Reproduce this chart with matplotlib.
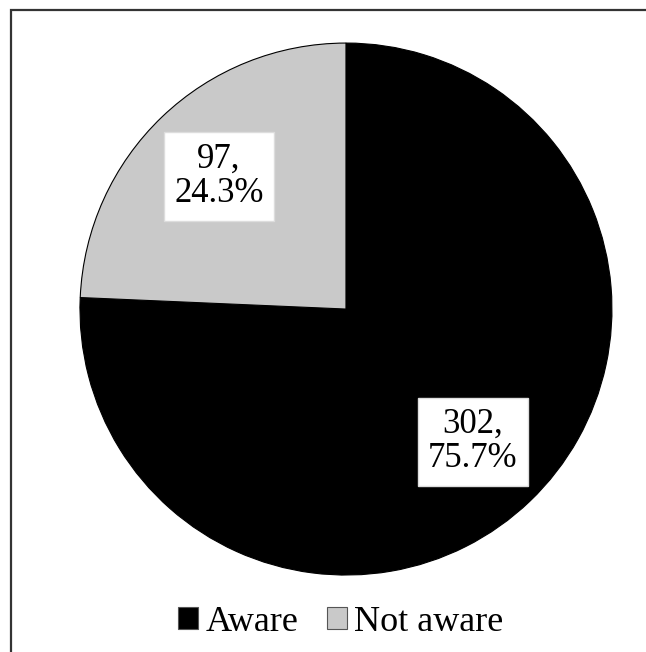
import numpy as np
import matplotlib.pyplot as plt
from matplotlib.patches import Rectangle

labels = ["Aware", "Not aware"]
counts = [302, 97]
percents = [75.7, 24.3]
colors = ["#000000", "#c9c9c9"]

plt.rcParams["font.family"] = ["Liberation Serif", "DejaVu Serif"]

fig = plt.figure(figsize=(6.46, 6.52), dpi=100)
ax = fig.add_axes([0.1238, 0.118, 0.8235, 0.816])

wedges, _ = ax.pie(counts, colors=colors, startangle=90, counterclock=False,
                   wedgeprops=dict(edgecolor="black", linewidth=0.8))
ax.set_xlim(-1.0, 1.0)
ax.set_ylim(-1.0, 1.0)
ax.set_aspect("equal")

# value labels inside the slices
for w, n, p in zip(wedges, counts, percents):
    ang = np.deg2rad((w.theta1 + w.theta2) / 2)
    ax.text(0.69 * np.cos(ang), 0.69 * np.sin(ang), f"{n},\n{p}%", ha="center", va="center",
            fontsize=25, linespacing=1.05,
            bbox=dict(facecolor="white", edgecolor="#dddddd", boxstyle="square,pad=0.3"))

leg = fig.legend(wedges, labels, loc="center", bbox_to_anchor=(0.528, 0.046), ncol=2,
                 frameon=False, fontsize=26, handlelength=0.55, handleheight=0.55,
                 handletextpad=0.2, columnspacing=0.8)
for h in leg.legend_handles:
    h.set_edgecolor("#555555")

# figure border (top and left visible)
fig.add_artist(Rectangle((10.5 / 646, -0.1), 1.2, 1.1 - 11 / 652 + 0.001,
                         transform=fig.transFigure, fill=False, edgecolor="#333333", linewidth=1.6))

fig.savefig("out.png", dpi=100)
